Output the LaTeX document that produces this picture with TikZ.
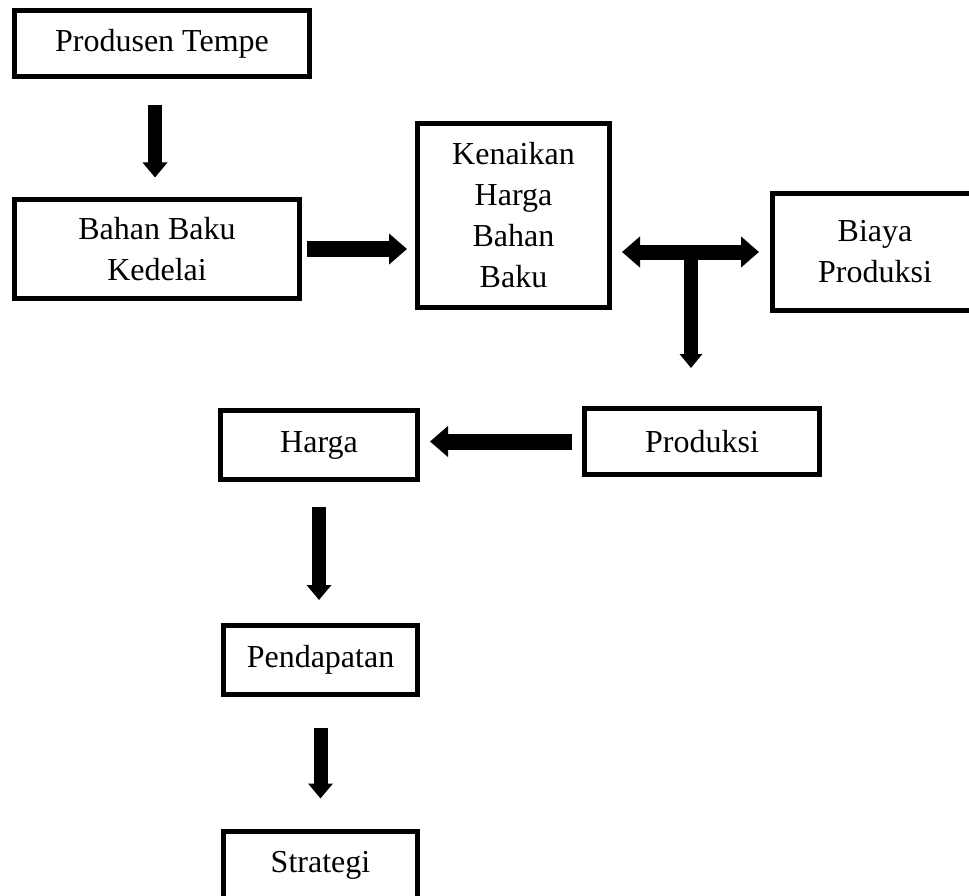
\documentclass[tikz,border=0pt]{standalone}
\usepackage{fontspec}
\setmainfont{Liberation Serif}
\usepackage{tikz}
\usetikzlibrary{arrows.meta, calc, positioning}

\begin{document}
\begin{tikzpicture}[x=1pt, y=-1pt,
		box/.style={draw, line width=5pt, inner sep=0pt, align=center, font=\fontsize{32}{41}\selectfont},
		vflow/.style={line width=14pt, -{Triangle[width=24pt, length=15pt]}},
		hflow/.style={line width=16pt, -{Triangle[width=30pt, length=18pt]}}]
		\useasboundingbox (0,0) rectangle (969,896);
		\clip (0,0) rectangle (969,896);
		\node[box, minimum width=295pt, minimum height=66pt] (prod) at (162,43.5) {Produsen Tempe};
		\node[box, minimum width=285pt, minimum height=98pt] (bahan) at (157,249) {Bahan Baku\\Kedelai};
		\node[box, minimum width=192pt, minimum height=184pt] (naik) at (513.5,215.5) {Kenaikan\\Harga\\Bahan\\Baku};
		\node[box, minimum width=205pt, minimum height=117pt] (biaya) at (875,252) {Biaya\\Produksi};
		\node[box, minimum width=235pt, minimum height=66pt] (prodk) at (702,441.5) {Produksi};
		\node[box, minimum width=197pt, minimum height=69pt] (harga) at (319,445) {Harga};
		\node[box, minimum width=194pt, minimum height=69pt] (dapat) at (320.5,660) {Pendapatan};
		\node[box, minimum width=194pt, minimum height=69pt] (strat) at (320.5,865.5) {Strategi};
		% arrows
		\draw[vflow, shorten <=26pt, shorten >=20pt] ([xshift=-7pt]prod.south) -- ([xshift=-2pt]bahan.north);
		\draw[hflow, shorten <=5pt, shorten >=8pt] (bahan.east) -- (bahan.east -| naik.west);
		\coordinate (tee) at ($(naik.east |- biaya.west)!0.5!(biaya.west)$);
		\draw[vflow, -{Triangle[width=22pt, length=14pt]}, shorten >=38pt] (tee) -- (tee |- prodk.north);
		\draw[line width=15pt, {Triangle[width=30pt, length=18pt]}-{Triangle[width=30pt, length=18pt]}, shorten <=10pt, shorten >=11pt] (naik.east |- biaya.west) -- (biaya.west);
		\draw[hflow, shorten <=10pt, shorten >=10pt] (prodk.west) -- (prodk.west -| harga.east);
		\draw[vflow, shorten <=25pt, shorten >=23pt] (harga.south) -- (harga.south |- dapat.north);
		\draw[vflow, shorten <=31pt, shorten >=30pt] (dapat.south) -- (dapat.south |- strat.north);
\end{tikzpicture}
\end{document}
